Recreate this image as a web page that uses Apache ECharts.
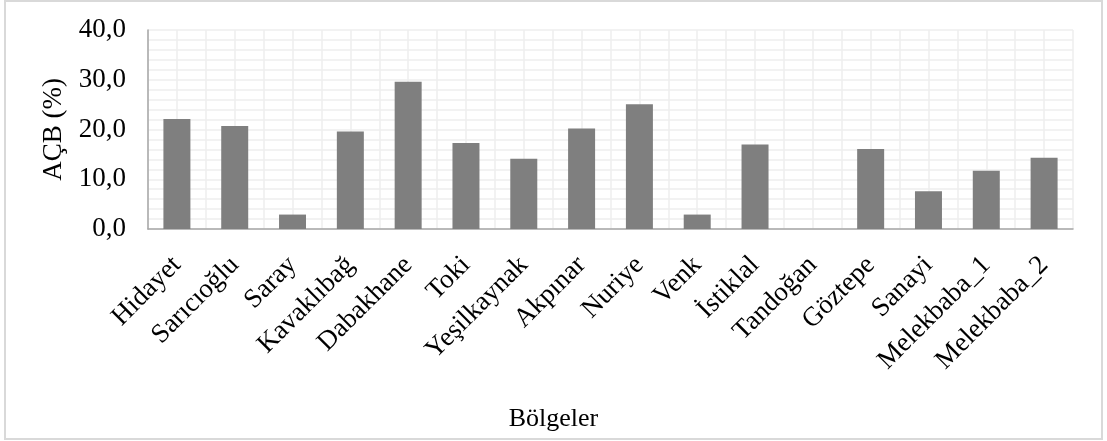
<!DOCTYPE html>
<html>
<head>
<meta charset="utf-8">
<script src="https://cdn.jsdelivr.net/npm/echarts@6/dist/echarts.min.js"></script>
<style>
html,body{margin:0;padding:0;background:#fff;}
#c{width:1107px;height:441px;}
</style>
</head>
<body>
<div id="c"></div>
<script>
const categories = ['Hidayet','Sarıcıoğlu','Saray','Kavaklıbağ','Dabakhane','Toki','Yeşilkaynak','Akpınar','Nuriye','Venk','İstiklal','Tandoğan','Göztepe','Sanayi','Melekbaba_1','Melekbaba_2'];
const acbValues = [22.1, 20.7, 2.9, 19.6, 29.6, 17.3, 14.1, 20.2, 25.1, 2.9, 17.0, 0, 16.1, 7.6, 11.7, 14.3];
const yTickLabels = ['0,0','10,0','20,0','30,0','40,0'];
const yAxisName = 'AÇB (%)';
const xAxisName = 'Bölgeler';

const FONT = '"Liberation Serif", "Times New Roman", serif';
const chart = echarts.init(document.getElementById('c'), null, {renderer: 'canvas'});
chart.setOption({
  animation: false,
  backgroundColor: '#ffffff',
  title: {
    text: xAxisName,
    left: 'center',
    top: 401,
    textStyle: {fontFamily: FONT, fontSize: 26, fontWeight: 'normal', color: '#000'}
  },
  graphic: [{
    type: 'rect',
    shape: {x: 5, y: 1, width: 1097, height: 438},
    style: {fill: 'none', stroke: '#d9d9d9', lineWidth: 2},
    silent: true,
    z: -10
  }],
  grid: {left: 148, right: 34, top: 30, bottom: 212, containLabel: false},
  xAxis: [{
    type: 'category',
    data: categories,
    boundaryGap: true,
    axisLine: {show: true, lineStyle: {color: '#a6a6a6', width: 1.5}},
    axisTick: {show: false},
    splitLine: {show: false},
    axisLabel: {
      interval: 0,
      rotate: 45,
      margin: 32,
      fontFamily: FONT,
      fontSize: 27,
      color: '#000'
    }
  }, {
    type: 'value',
    min: 0,
    max: categories.length * 2,
    interval: 1,
    position: 'bottom',
    axisLine: {show: false},
    axisTick: {show: false},
    axisLabel: {show: false},
    splitLine: {show: true, lineStyle: {color: '#eeeeee', width: 1.5}}
  }],
  yAxis: {
    type: 'value',
    min: 0,
    max: 40,
    interval: 10,
    name: yAxisName,
    nameLocation: 'middle',
    nameGap: 76,
    nameTextStyle: {fontFamily: FONT, fontSize: 27, color: '#000'},
    axisLine: {show: true, lineStyle: {color: '#a6a6a6', width: 1.5}},
    axisTick: {show: false},
    axisLabel: {
      margin: 22,
      fontFamily: FONT,
      fontSize: 27,
      color: '#000',
      formatter: function (v) { return yTickLabels[Math.round(v / 10)]; }
    },
    splitLine: {show: true, lineStyle: {color: '#eeeeee', width: 1.5}},
    minorTick: {show: false, splitNumber: 5},
    minorSplitLine: {show: true, lineStyle: {color: '#eeeeee', width: 1.5}}
  },
  series: [{
    type: 'bar',
    xAxisIndex: 0,
    data: acbValues,
    barWidth: 27,
    itemStyle: {color: '#7f7f7f'},
    z: 5
  }]
});
</script>
</body>
</html>
